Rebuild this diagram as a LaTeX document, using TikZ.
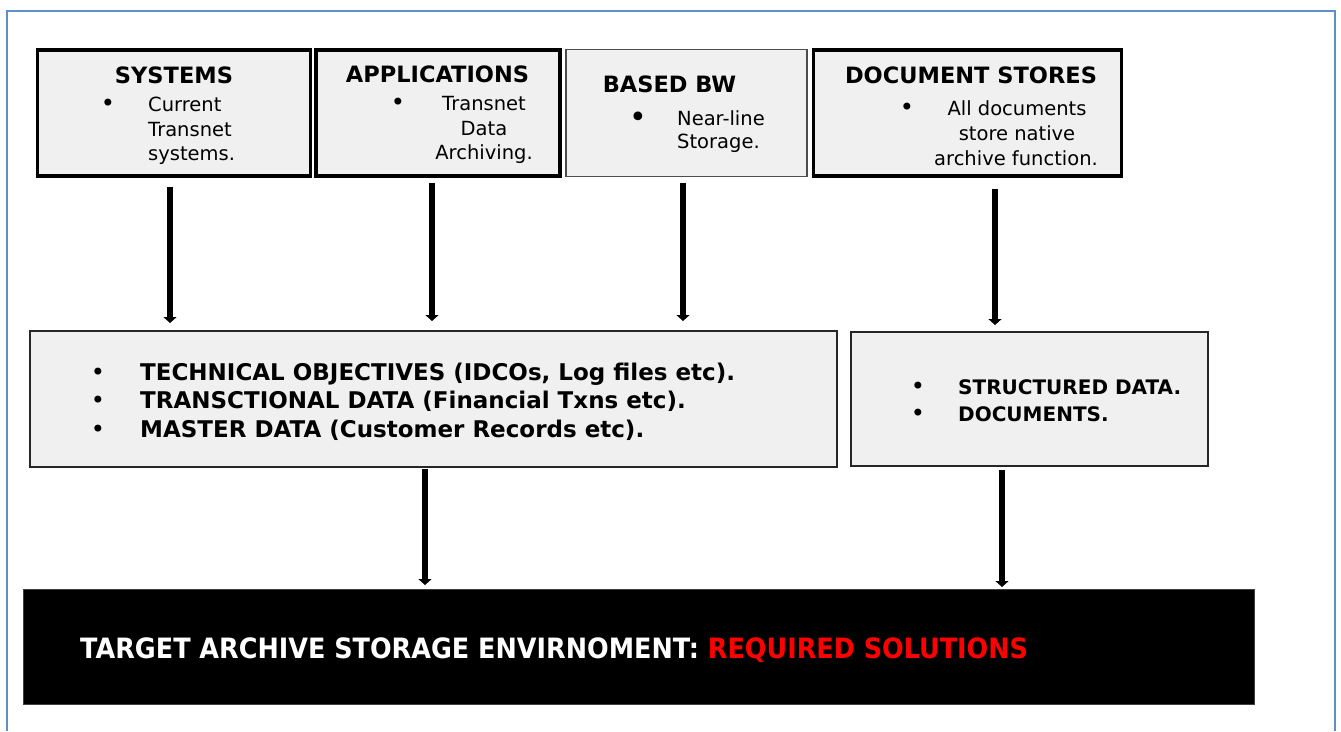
\documentclass[tikz,border=0pt]{standalone}
\usepackage{fontspec}
\usepackage{graphicx}
\setmainfont{DejaVu Sans}
\usetikzlibrary{arrows.meta}

\definecolor{boxgrey}{HTML}{F0F0F0}
\definecolor{frameblue}{HTML}{5F8FCB}
\definecolor{solred}{HTML}{FF0000}

\tikzset{
  topbox/.style={draw=black, line width=3.3pt, fill=boxgrey, inner sep=0pt, outer sep=0pt, anchor=north west},
  bwbox/.style={draw=black!70, line width=1.6pt, fill=boxgrey, inner sep=0pt, outer sep=0pt, anchor=north west},
  midbox/.style={draw=black!85, line width=2pt, fill=boxgrey, inner sep=0pt, outer sep=0pt, anchor=north west},
  targetbox/.style={draw=black!75, line width=1pt, fill=black, inner sep=0pt, outer sep=0pt, anchor=north west},
  head/.style={font=\fontsize{22.5}{27}\selectfont\bfseries, inner sep=0pt, anchor=base},
  body/.style={font=\fontsize{19.5}{24}\selectfont, inner sep=0pt},
  bodyl/.style={body, anchor=base west},
  bodyc/.style={body, anchor=base},
  bul/.style={font=\fontsize{24}{24}\selectfont, inner sep=0pt, anchor=base},
  midtxt/.style={font=\fontsize{23}{28}\selectfont\bfseries, inner sep=0pt, anchor=base west},
  sidetxt/.style={font=\fontsize{20}{28}\selectfont\bfseries, inner sep=0pt, anchor=base west},
  flow/.style={line width=6pt, -{Triangle[width=13pt,length=6pt]}},
  frame/.style={draw=frameblue, line width=2pt},
}

\begin{document}
\begin{tikzpicture}[x=1pt,y=-1pt]
  \useasboundingbox[fill=white] (0,0) rectangle (1341,731);

  % outer frame
  \draw[frame] (7,731) -- (7,11) -- (1335,11) -- (1335,731);

  % source boxes
  \node[topbox, minimum width=273pt, minimum height=126pt] (sys) at (37.5,50) {};
  \node[topbox, minimum width=244pt, minimum height=126pt] (app) at (316,50) {};
  \node[bwbox,  minimum width=241pt, minimum height=127pt] (bw)  at (566,49.5) {};
  \node[topbox, minimum width=308pt, minimum height=126pt] (doc) at (813.5,50) {};

  % SYSTEMS
  \node[head] (sysh) at (174,83) {SYSTEMS};
  \node[bul] (sysb) at (108,111) {•};
  \node[bodyl] (sys1) at (148,111) {Current};
  \node[bodyl] (sys2) at (148,136) {Transnet};
  \node[bodyl] (sys3) at (148,160) {systems.};

  % APPLICATIONS
  \node[head] (apph) at (437.5,82) {APPLICATIONS};
  \node[bul] (appb) at (398,110.5) {•};
  \node[bodyc] (app1) at (484,110.5) {Transnet};
  \node[bodyc] (app2) at (484,135) {Data};
  \node[bodyc] (app3) at (484,159.5) {Archiving.};

  % BASED BW
  \node[head] (bwh) at (669.5,92) {BASED BW};
  \node[bul, font=\fontsize{30}{30}\selectfont] (bwb) at (638,127.5) {•};
  \node[bodyl] (bw1) at (677,125) {Near-line};
  \node[bodyl] (bw2) at (677,148.5) {Storage.};

  % DOCUMENT STORES
  \node[head] (doch) at (971,83) {DOCUMENT STORES};
  \node[bul] (docb) at (907,115) {•};
  \node[bodyc] (doc1) at (1017,115) {All documents};
  \node[bodyc] (doc2) at (1017,140) {store native};
  \node[bodyc] (doc3) at (1016,165) {archive function.};

  % data categories
  \node[midbox, minimum width=807pt, minimum height=136pt] (tech) at (30,331) {};
  \node[bul] (techb1) at (98,380) {•};
  \node[bul] (techb2) at (98,408.5) {•};
  \node[bul] (techb3) at (98,437) {•};
  \node[midtxt] (tech1) at (140,380) {TECHNICAL OBJECTIVES (IDCOs, Log files etc).};
  \node[midtxt] (tech2) at (140,408.5) {TRANSCTIONAL DATA (Financial Txns etc).};
  \node[midtxt] (tech3) at (140,437) {MASTER DATA (Customer Records etc).};

  \node[midbox, minimum width=357pt, minimum height=134pt] (struct) at (851,332) {};
  \node[bul] (strb1) at (918,394) {•};
  \node[bul] (strb2) at (918,421) {•};
  \node[sidetxt] (str1) at (958,394) {STRUCTURED DATA.};
  \node[sidetxt] (str2) at (958,421) {DOCUMENTS.};

  % target environment
  \node[targetbox, minimum width=1231pt, minimum height=115pt] (target) at (23,589) {};
  \node[font=\fontsize{28}{30}\selectfont\bfseries, inner sep=0pt, anchor=base west, text=white] (targett) at (80,658)
    {\scalebox{0.91}[1]{TARGET ARCHIVE STORAGE ENVIRNOMENT: \textcolor{solred}{REQUIRED SOLUTIONS}}};

  % connector columns
  \coordinate (c1) at (170,0);
  \coordinate (c2) at (432,0);
  \coordinate (c3) at (683,0);
  \coordinate (c4) at (995,0);
  \coordinate (c5) at (425,0);
  \coordinate (c6) at (1002,0);

  \draw[flow] ([yshift=-11pt]sys.south -| c1) -- ([yshift=8pt]tech.north -| c1);
  \draw[flow] ([yshift=-7pt]app.south -| c2) -- ([yshift=10pt]tech.north -| c2);
  \draw[flow] ([yshift=-6pt]bw.south -| c3) -- ([yshift=10pt]tech.north -| c3);
  \draw[flow] ([yshift=-13pt]doc.south -| c4) -- ([yshift=7pt]struct.north -| c4);
  \draw[flow] ([yshift=-2pt]tech.south -| c5) -- ([yshift=4pt]target.north -| c5);
  \draw[flow] ([yshift=-4pt]struct.south -| c6) -- ([yshift=2pt]target.north -| c6);
\end{tikzpicture}
\end{document}
